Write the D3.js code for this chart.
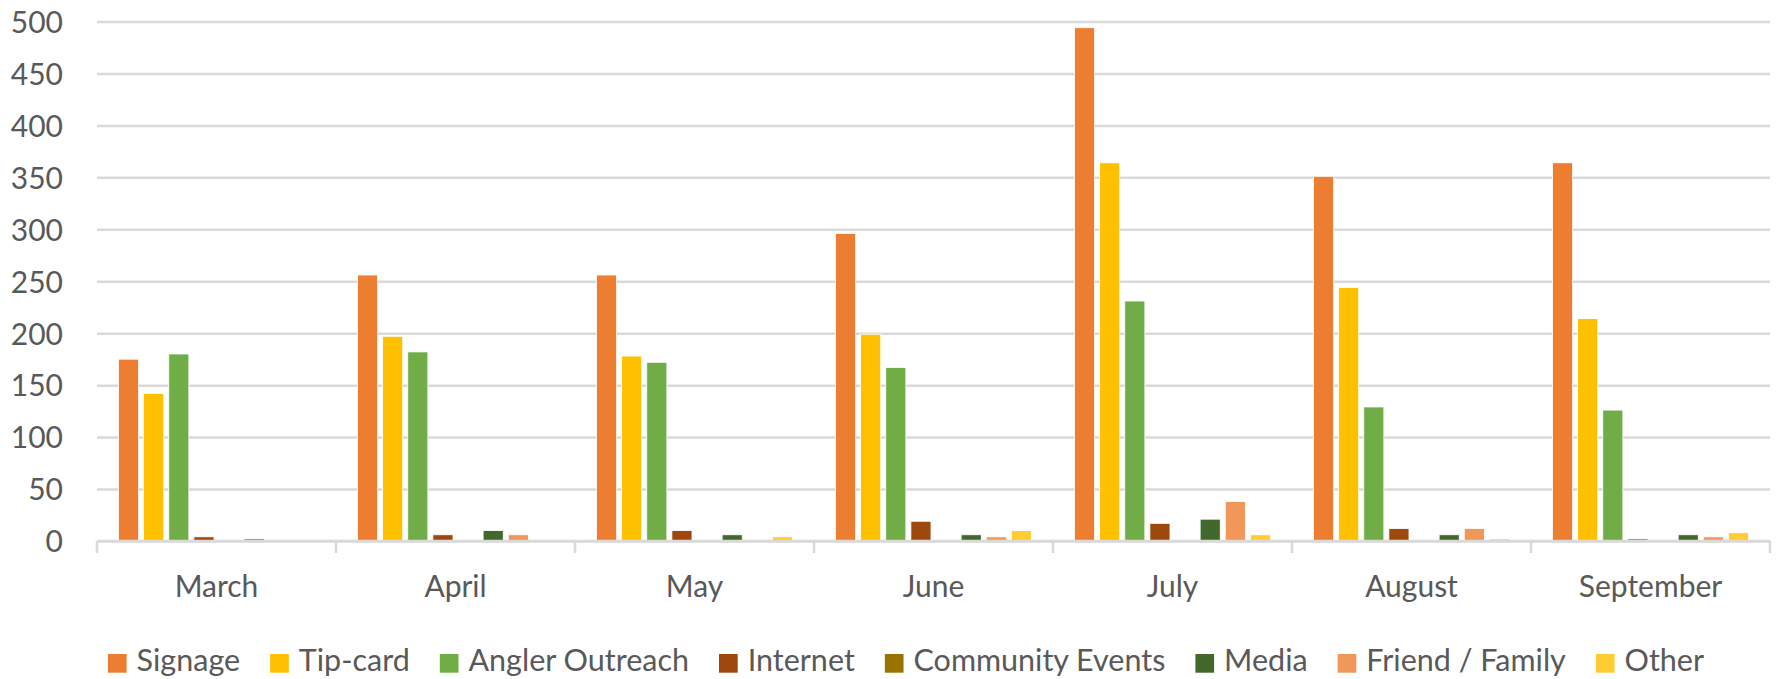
<!DOCTYPE html>
<html>
<head>
<meta charset="utf-8">
<script src="https://cdn.jsdelivr.net/npm/d3@7"></script>
<style>
  html, body { margin: 0; padding: 0; background: #fff; }
  svg { display: block; }
  text { font-family: Lato, "Open Sans", sans-serif; fill: #595959; }
</style>
</head>
<body>
<svg id="chart" width="1777" height="679"></svg>
<script>
// Monthly counts of how people heard about the program, by source
const months = ["March", "April", "May", "June", "July", "August", "September"];
const seriesNames = ["Signage", "Tip-card", "Angler Outreach", "Internet",
                     "Community Events", "Media", "Friend / Family", "Other"];
const signage         = [175, 256, 256, 296, 494, 351, 364];
const tipCard         = [142, 197, 178, 199, 364, 244, 214];
const anglerOutreach  = [180, 182, 172, 167, 231, 129, 126];
const internet        = [4, 6, 10, 19, 17, 12, 2];
const communityEvents = [0, 0, 0, 0, 0, 0, 0];
const media           = [2, 10, 6, 6, 21, 6, 6];
const friendFamily    = [0, 6, 0, 4, 38, 12, 4];
const other           = [0, 0, 4, 10, 6, 2, 8];
const yTicks = [0, 50, 100, 150, 200, 250, 300, 350, 400, 450, 500];

const seriesValues = [signage, tipCard, anglerOutreach, internet,
                      communityEvents, media, friendFamily, other];
const colors = ["#ED7D31", "#FFC000", "#70AD47", "#9E480E",
                "#997300", "#43682B", "#F1975A", "#FFCD33"];

const svg = d3.select("#chart");
const plot = { left: 97, right: 1770, top: 21.5, bottom: 541 };

const x0 = d3.scaleBand().domain(months).range([plot.left, plot.right]).padding(0);
const groupPad = 19;
const x1 = d3.scaleBand().domain(seriesNames)
  .range([groupPad, x0.bandwidth() - groupPad]).paddingInner(0.2).paddingOuter(0.1);
const y = d3.scaleLinear().domain([0, 500]).range([plot.bottom, plot.top]);
const color = d3.scaleOrdinal().domain(seriesNames).range(colors);

// horizontal gridlines + value labels
const yAxis = d3.axisLeft(y).tickValues(yTicks).tickSize(-(plot.right - plot.left)).tickPadding(34);
const gy = svg.append("g").attr("transform", `translate(${plot.left},0)`).call(yAxis);
gy.select(".domain").remove();
gy.selectAll(".tick line").attr("stroke", "#D9D9D9").attr("stroke-width", 2.5);
gy.selectAll(".tick text")
  .attr("font-size", 30).attr("fill", "#595959")
  .attr("dy", "0.36em");

// bars
const groups = svg.append("g").selectAll("g").data(months).join("g")
  .attr("transform", d => `translate(${x0(d)},0)`);
groups.selectAll("rect")
  .data((m, i) => seriesNames.map((s, k) => ({ s, v: seriesValues[k][i] })))
  .join("rect")
  .attr("x", d => x1(d.s))
  .attr("y", d => y(d.v))
  .attr("width", x1.bandwidth())
  .attr("height", d => y(0) - y(d.v))
  .attr("fill", d => color(d.s))
  .attr("stroke", "#fff").attr("stroke-width", d => d.v > 0 ? 0.8 : 0);

// category axis along the baseline
const xAxis = d3.axisBottom(x0).tickSize(0).tickPadding(0);
const gx = svg.append("g").attr("transform", `translate(0,${plot.bottom})`).call(xAxis);
gx.select(".domain").remove();
gx.append("line").attr("x1", plot.left).attr("x2", plot.right)
  .attr("stroke", "#D9D9D9").attr("stroke-width", 2.5);
gx.selectAll(".tick text").attr("font-size", 30).attr("fill", "#595959").attr("y", 56).attr("dy", 0);
const boundaries = months.map(m => x0(m)).concat([plot.right]);
gx.selectAll(".sep").data(boundaries).join("line").attr("class", "sep")
  .attr("x1", d => d).attr("x2", d => d).attr("y1", 0).attr("y2", 12)
  .attr("stroke", "#D9D9D9").attr("stroke-width", 2.5);

// legend across the bottom
const legend = svg.append("g").attr("class", "legend");
const sw = 18.7, swGap = 10, itemGap = 30, legendFont = 30.5;
const items = legend.selectAll("g").data(seriesNames).join("g");
items.append("rect").attr("width", sw).attr("height", sw).attr("y", -sw + 1.7)
  .attr("fill", d => color(d));
items.append("text").attr("x", sw + swGap).attr("font-size", legendFont).text(d => d);
const widths = [];
items.each(function () {
  const w = sw + swGap + d3.select(this).select("text").node().getComputedTextLength();
  widths.push(w);
});
const total = d3.sum(widths) + itemGap * (widths.length - 1);
let start = 906 - total / 2;
items.attr("transform", (d, i) => {
  const t = `translate(${start},671)`;
  start += widths[i] + itemGap;
  return t;
});
</script>
</body>
</html>
